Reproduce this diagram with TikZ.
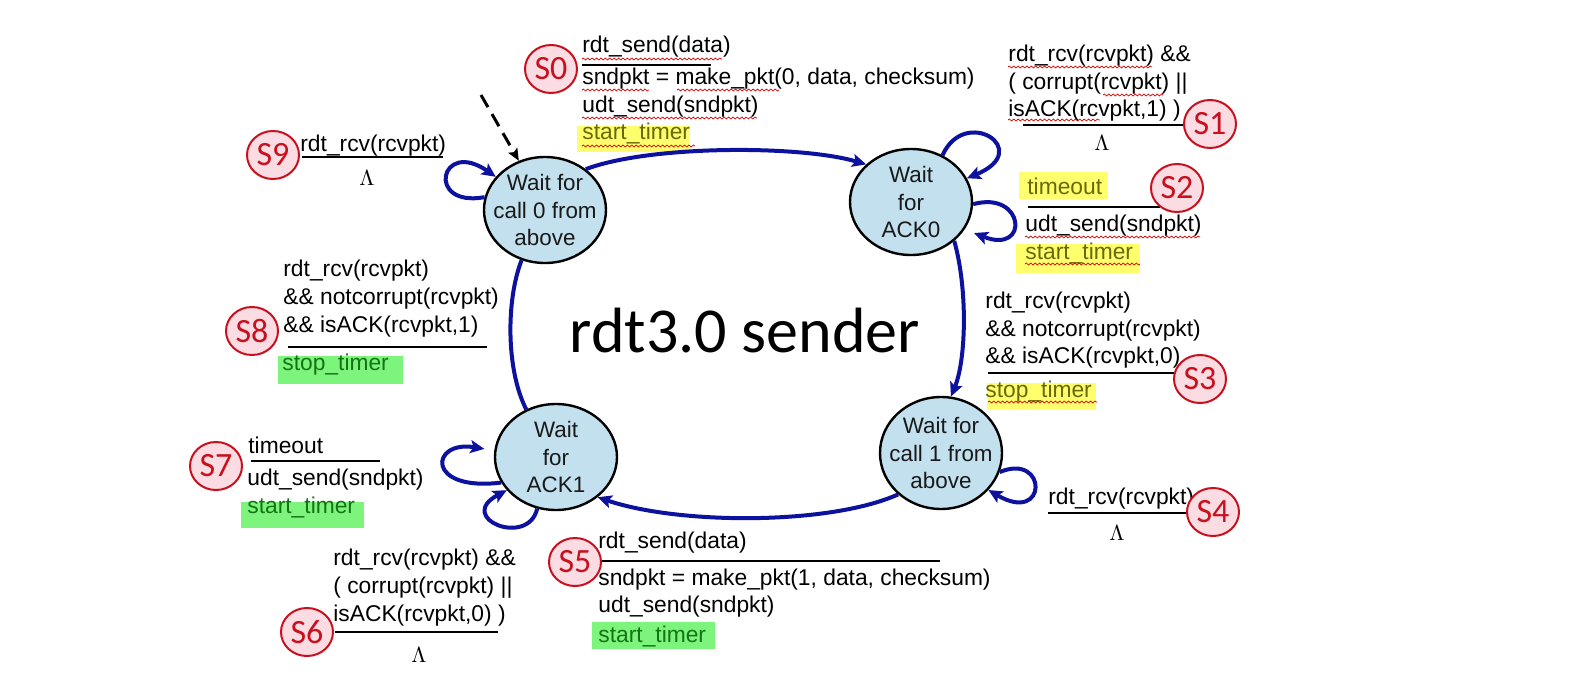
\documentclass[tikz,border=0pt]{standalone}
\usepackage{fontspec}
\setmainfont{Liberation Sans}
\newfontfamily\calib{Carlito}
\usetikzlibrary{arrows.meta,shapes.geometric,decorations.pathmorphing}
\definecolor{statefill}{RGB}{194,224,237}
\definecolor{arrblue}{RGB}{12,18,158}
\definecolor{sred}{RGB}{200,16,30}
\definecolor{spink}{RGB}{250,220,226}
\definecolor{hlyellow}{RGB}{255,255,110}
\definecolor{hlgreen}{RGB}{125,245,125}
\definecolor{txyellow}{RGB}{105,105,10}
\definecolor{txgreen}{RGB}{20,115,20}
\tikzset{
  state/.style={ellipse, draw=black, line width=1.2pt, fill=statefill,
    minimum width=61pt, minimum height=53pt, inner sep=-10pt, align=center,
    font=\fontsize{11.2}{13.8}\selectfont, text=black!90},
  conn/.style={draw=arrblue, line width=2pt},
  arr/.style={conn, -{Stealth[length=7pt,width=6.5pt,inset=1.5pt]}},
  lbl/.style={anchor=base west, inner sep=0pt, font=\fontsize{11.4}{13}\selectfont},
  lam/.style={inner sep=0pt, font=\fontsize{11}{13}\selectfont},
  bar/.style={draw=black, line width=1.4pt},
  sbadge/.style={ellipse, draw=sred, line width=1pt, fill=spink, text=sred,
    minimum width=26pt, minimum height=24pt, inner sep=0pt,
    font=\calib\fontsize{17}{17}\selectfont},
  squig/.style={draw=red!85!black, line width=0.35pt,
    decorate, decoration={snake, segment length=2.2pt, amplitude=0.5pt}},
}
\begin{document}
\begin{tikzpicture}[x=0.5pt,y=-0.5pt]
\useasboundingbox (0,0) rectangle (1576,674);
% highlights
\fill[hlyellow] (577,126) rectangle (690,152);
\fill[hlyellow] (1019,172) rectangle (1108,199);
\fill[hlyellow] (1016,244) rectangle (1140,273);
\fill[hlyellow] (987,383) rectangle (1096,410);
\fill[hlgreen] (592,622) rectangle (715,649);
\fill[hlgreen] (241,502) rectangle (364,528);
\fill[hlgreen] (278,356) rectangle (403,384);

% states
\node[state] (call0) at (545,210) {Wait for\\call 0 from\\above};
\node[state] (ack0) at (911,202) {Wait\\for\\ACK0};
\node[state, minimum height=56pt] (call1) at (941,453) {Wait for\\call 1 from\\above};
\node[state] (ack1) at (556,457) {Wait\\for\\ACK1};

\node[anchor=base, inner sep=0pt, font=\calib\fontsize{32}{32}\selectfont] (title) at (745,352) {rdt3.0 sender};

% main transitions
\draw[arr] (call0.45) .. controls (650,145) and (800,145) .. (ack0.140);
\draw[arr] (ack0.-42) .. controls (968,290) and (966,360) .. (call1.80);
\draw[arr] (call1.-136) .. controls (830,525) and (680,525) .. (ack1.-44);
\draw[conn] (ack1.122) .. controls (506,370) and (506,300) .. (call0.-115);
\coordinate (init) at (481,95);
\draw[black, line width=1.5pt, dash pattern=on 7pt off 4pt, -{Stealth[length=6pt,width=5pt,inset=1pt]}] (init) -- (call0.118);

% self loops
\draw[arr] (call0.168) .. controls (425,208) and (440,138) .. (call0.146);
\draw[arr] (ack0.56) .. controls (965,105) and (1035,150) .. (ack0.23);
\draw[arr, shorten >=5pt] (ack0.-2) .. controls (1025,190) and (1030,255) .. (ack0.-27);
\draw[arr] (call1.-18) .. controls (1048,452) and (1048,525) .. (call1.-38);
\draw[arr, shorten >=5pt] (ack1.-155) .. controls (425,492) and (430,440) .. (ack1.174);
\draw[arr] (ack1.-110) .. controls (528,548) and (455,518) .. (ack1.-146);

% S0
\node[lbl] (s0a) at (582,53) {rdt\_send(data)};
\draw[bar] (582,65) -- (711,65);
\node[lbl] (s0b) at (582,85) {sndpkt = make\_pkt(0, data, checksum)};
\node[lbl] (s0c) at (582,113) {udt\_send(sndpkt)};
\node[lbl, text=txyellow] (s0d) at (582,140) {start\_timer};
% S1
\node[lbl] (s1a) at (1008,62) {rdt\_rcv(rcvpkt) \&\&};
\node[lbl] (s1b) at (1008,90) {( corrupt(rcvpkt) ||};
\node[lbl] (s1c) at (1008,117) {isACK(rcvpkt,1) )};
\draw[bar] (1023,125) -- (1188,125);
\node[lam] (s1l) at (1102,143) {$\Lambda$};
% S2
\node[lbl, text=txyellow] (s2a) at (1027,195) {timeout};
\draw[bar] (1028,207) -- (1160,207);
\node[lbl] (s2b) at (1025,232) {udt\_send(sndpkt)};
\node[lbl, text=txyellow] (s2c) at (1025,259) {start\_timer};
% S3
\node[lbl] (s3a) at (985,308) {rdt\_rcv(rcvpkt)};
\node[lbl] (s3b) at (985,336) {\&\& notcorrupt(rcvpkt)};
\node[lbl] (s3c) at (985,363) {\&\& isACK(rcvpkt,0)};
\draw[bar] (988,373) -- (1178,373);
\node[lbl, text=txyellow] (s3d) at (985,397) {stop\_timer};
% S4
\node[lbl] (s4a) at (1048,504) {rdt\_rcv(rcvpkt)};
\draw[bar] (1048,513) -- (1190,513);
\node[lam] (s4l) at (1117,533) {$\Lambda$};
% S5
\node[lbl] (s5a) at (598,548) {rdt\_send(data)};
\draw[bar] (600,561) -- (940,561);
\node[lbl] (s5b) at (598,585) {sndpkt = make\_pkt(1, data, checksum)};
\node[lbl] (s5c) at (598,612) {udt\_send(sndpkt)};
\node[lbl, text=txgreen] (s5d) at (598,642) {start\_timer};
% S6
\node[lbl] (s6a) at (333,565) {rdt\_rcv(rcvpkt) \&\&};
\node[lbl] (s6b) at (333,593) {( corrupt(rcvpkt) ||};
\node[lbl] (s6c) at (333,621) {isACK(rcvpkt,0) )};
\draw[bar] (335,632) -- (498,632);
\node[lam] (s6l) at (419,655) {$\Lambda$};
% S7
\node[lbl] (s7a) at (248,453) {timeout};
\draw[bar] (251,461) -- (380,461);
\node[lbl] (s7b) at (247,485) {udt\_send(sndpkt)};
\node[lbl, text=txgreen] (s7c) at (247,513) {start\_timer};
% S8
\node[lbl] (s8a) at (283,277) {rdt\_rcv(rcvpkt)};
\node[lbl] (s8b) at (283,304) {\&\& notcorrupt(rcvpkt)};
\node[lbl] (s8c) at (283,332) {\&\& isACK(rcvpkt,1)};
\draw[bar] (288,347) -- (487,347);
\node[lbl, text=txgreen] (s8d) at (282,370) {stop\_timer};
% S9
\node[lbl] (s9a) at (300,152) {rdt\_rcv(rcvpkt)};
\draw[bar] (302,157) -- (443,157);
\node[lam] (s9l) at (367,178) {$\Lambda$};

% spell-check squiggles
\draw[squig] (582,59) -- (722,59);
\draw[squig] (582,90) -- (649,90);
\draw[squig] (677,90) -- (779,90);
\draw[squig] (582,118) -- (757,118);
\draw[squig] (582,146) -- (695,146);
\draw[squig] (1008,67) -- (1152,67);
\draw[squig] (1103,95) -- (1163,95);
\draw[squig] (1008,120) -- (1100,120);
\draw[squig] (1025,237) -- (1200,237);
\draw[squig] (1025,264) -- (1140,264);
\draw[squig] (988,402) -- (1097,402);

% S badges
\node[sbadge] (b0) at (551,69) {S0};
\node[sbadge] (b1) at (1210,124) {S1};
\node[sbadge] (b2) at (1177,188) {S2};
\node[sbadge] (b3) at (1200,379) {S3};
\node[sbadge] (b4) at (1213,512) {S4};
\node[sbadge] (b5) at (575,562) {S5};
\node[sbadge] (b6) at (307,632) {S6};
\node[sbadge] (b7) at (216,466) {S7};
\node[sbadge] (b8) at (252,331) {S8};
\node[sbadge] (b9) at (273,155) {S9};
\end{tikzpicture}
\end{document}
